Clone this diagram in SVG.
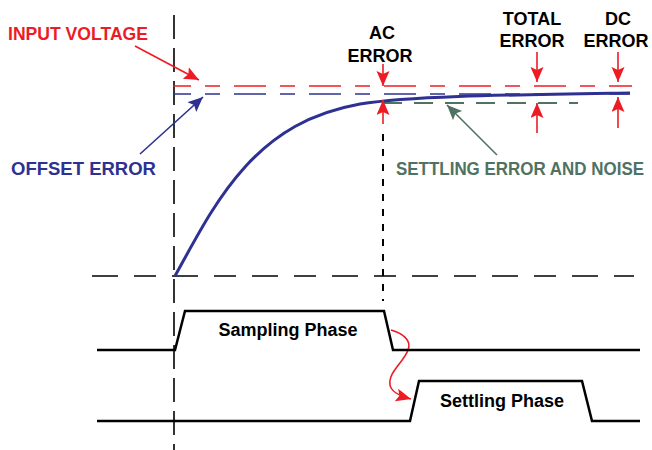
<svg xmlns="http://www.w3.org/2000/svg" width="652" height="450" viewBox="0 0 652 450">
<style>
text{font-family:"Liberation Sans",Arial,sans-serif;font-weight:bold;font-size:18px}
.k{fill:#000}
.r{fill:#ED1C24}
.b{fill:#2E3192}
.g{fill:#4F7262}
.pulse{fill:none;stroke:#000;stroke-width:2.5;stroke-linejoin:miter}
</style>
<defs>
<marker id="ar" markerUnits="userSpaceOnUse" markerWidth="17" markerHeight="14" refX="15" refY="6.5" orient="auto"><path d="M0,0 L15,6.5 L0,13 L3,6.5 Z" fill="#ED1C24"/></marker>
<marker id="ab" markerUnits="userSpaceOnUse" markerWidth="17" markerHeight="14" refX="15" refY="6.5" orient="auto"><path d="M0,0 L15,6.5 L0,13 L3,6.5 Z" fill="#2E3192"/></marker>
<marker id="ag" markerUnits="userSpaceOnUse" markerWidth="17" markerHeight="14" refX="15" refY="6.5" orient="auto"><path d="M0,0 L15,6.5 L0,13 L3,6.5 Z" fill="#4F7262"/></marker>
</defs>

<g id="axes">
<line x1="174" y1="15" x2="174" y2="450" stroke="#000" stroke-width="1.6" stroke-dasharray="24 9"/>
<line x1="92" y1="276" x2="634" y2="276" stroke="#000" stroke-width="1.6" stroke-dasharray="26 16 22 16"/>
<line x1="383" y1="134" x2="383" y2="301" stroke="#000" stroke-width="2" stroke-dasharray="7 8"/>
</g>

<g id="levels">
<line x1="173" y1="86" x2="632" y2="86" stroke="#ED1C24" stroke-width="1.6" stroke-dasharray="15 14 32 14" stroke-dashoffset="43"/>
<line x1="173" y1="94" x2="630" y2="94" stroke="#2E3192" stroke-width="1.6" stroke-dasharray="15 14 32 14" stroke-dashoffset="43"/>
<line x1="383" y1="103" x2="578" y2="103" stroke="#4F7262" stroke-width="1.8" stroke-dasharray="19 12"/>
</g>

<g id="curve">
<path d="M175,276 C195,240 215,200 245,167 C275,134 310,113 360,104 C410,96 500,95 630,93" fill="none" stroke="#2E3192" stroke-width="3"/>
</g>

<g id="connectors">
<line x1="135" y1="46" x2="199" y2="80" stroke="#ED1C24" stroke-width="1.6" marker-end="url(#ar)"/>
<line x1="140" y1="154" x2="203" y2="97" stroke="#2E3192" stroke-width="1.6" marker-end="url(#ab)"/>
<line x1="497" y1="155" x2="447" y2="105" stroke="#4F7262" stroke-width="1.6" marker-end="url(#ag)"/>
<line x1="383" y1="64" x2="383" y2="86" stroke="#ED1C24" stroke-width="1.6" marker-end="url(#ar)"/>
<line x1="383" y1="124" x2="383" y2="100" stroke="#ED1C24" stroke-width="1.6" marker-end="url(#ar)"/>
<line x1="537" y1="52" x2="537" y2="82" stroke="#ED1C24" stroke-width="1.6" marker-end="url(#ar)"/>
<line x1="537" y1="133" x2="537" y2="103" stroke="#ED1C24" stroke-width="1.6" marker-end="url(#ar)"/>
<line x1="618" y1="52" x2="618" y2="82" stroke="#ED1C24" stroke-width="1.6" marker-end="url(#ar)"/>
<line x1="618" y1="128" x2="618" y2="97" stroke="#ED1C24" stroke-width="1.6" marker-end="url(#ar)"/>
<path d="M391,330 C402,333 412,340 408,350 C404,362 388,372 390,385 C391,392 400,396 411,399" fill="none" stroke="#ED1C24" stroke-width="1.6" marker-end="url(#ar)"/>
</g>

<g id="sampling">
<polyline class="pulse" points="97,350 175,350 185,311 384,311 393,350 640,350"/>
<text x="288" y="336" text-anchor="middle" class="k">Sampling Phase</text>
</g>
<g id="settling">
<polyline class="pulse" points="97,421 410,421 419,381 582,381 592,421 640,421"/>
<text x="502" y="407" text-anchor="middle" class="k">Settling Phase</text>
</g>

<g id="labels">
<text x="8" y="40" class="r" textLength="140" lengthAdjust="spacingAndGlyphs">INPUT VOLTAGE</text>
<text x="11" y="175" class="b" textLength="145" lengthAdjust="spacingAndGlyphs">OFFSET ERROR</text>
<text x="396" y="175" class="g" font-size="17.2" textLength="248" lengthAdjust="spacingAndGlyphs">SETTLING ERROR AND NOISE</text>
<text x="382" y="39" text-anchor="middle" class="k">AC</text>
<text x="380" y="62" text-anchor="middle" class="k">ERROR</text>
<text x="532" y="25" text-anchor="middle" class="k">TOTAL</text>
<text x="532" y="47" text-anchor="middle" class="k">ERROR</text>
<text x="618" y="25" text-anchor="middle" class="k">DC</text>
<text x="616" y="47" text-anchor="middle" class="k">ERROR</text>
</g>
</svg>
